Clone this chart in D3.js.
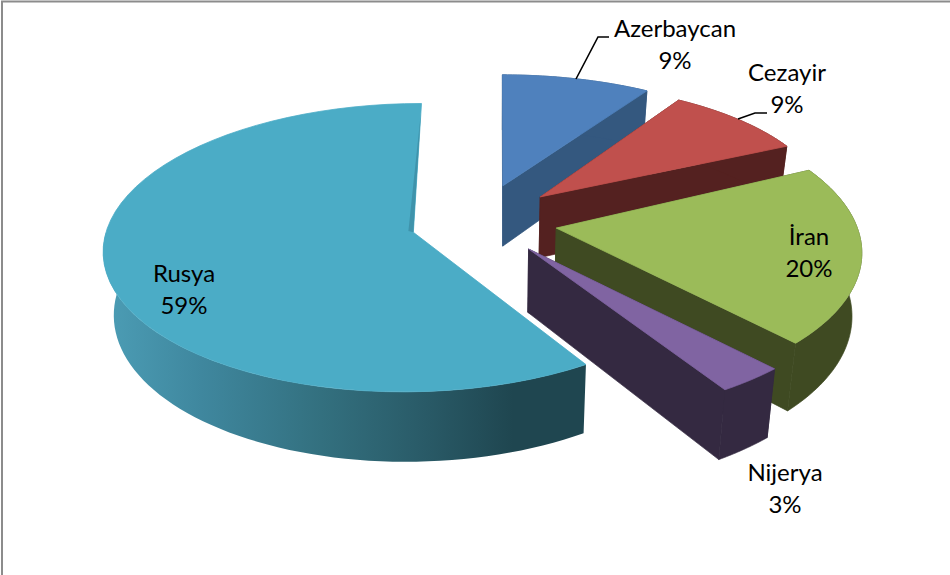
<!DOCTYPE html>
<html><head><meta charset="utf-8">
<script src="https://cdn.jsdelivr.net/npm/d3@7"></script>
<style>html,body{margin:0;padding:0;background:#fff}svg{display:block}text{font-family:Lato,"Open Sans",sans-serif;font-size:24px;fill:#000}</style>
</head><body><svg id="c" width="950" height="575"></svg>
<script>
const categories = ["Azerbaycan","Cezayir","İran","Nijerya","Rusya"];
const values = [9,9,20,3,59];
const percentLabels = ["9%","9%","20%","3%","59%"];
const topColors = ["#4f81bd","#c0504d","#9bbb59","#8064a2","#4bacc6"];
const wallColors = ["#34587f","#542120","#3f4a22","#342941","url(#rim)"];
// layout: explosion offsets on the pie plane, radii, and small perspective corrections per slice
const offX = [5,43,58,30,-84], offY = [80,55,-13,-57,-22];
const radiiX = [299,291,300,320,305], radiiY = [276,277,305,312,302];
const rimShiftY = [0,0,-13,0,0], turnDeg = [0,0,-2.5,0,0];
const labelX = [675,787,809,785,184], labelY = [29,73,237,473,274];

const cx=498, cy=222, v=.4648, q=.00035, H=62, shrink=.027;
const project=(X,Y,Z)=>{const w=1+q*Y;return [cx+X/w*(1-shrink*Z), cy+(-v*Y+H*Z)/w];};
const svg=d3.select("#c");
const defs=svg.append("defs");
const g=defs.append("linearGradient").attr("id","rim").attr("gradientUnits","userSpaceOnUse").attr("x1",105).attr("x2",585).attr("y1",0).attr("y2",0);
[[0,"#4c9db5"],[.2,"#3f879e"],[.45,"#33707f"],[.65,"#2a5c69"],[.85,"#1f4650"],[1,"#1f4650"]].forEach(s=>g.append("stop").attr("offset",s[0]).attr("stop-color",s[1]));

const arcs=d3.pie().sort(null)(values);
const line=d3.line();
const apex=(i,Z)=>project(offX[i],offY[i],Z);
const pt=(i,a,k,Z)=>{const t=a+turnDeg[i]*Math.PI/180;
  return project(offX[i]+Math.sin(t)*radiiX[i]*k,offY[i]+rimShiftY[i]*k+Math.cos(t)*radiiY[i]*k,Z);};
const samples=(a0,a1)=>d3.range(0,61).map(k=>a0+(a1-a0)*k/60);
const last=categories.length-1;

const gl=svg.append("g");
arcs.forEach((d,i)=>{
  const a0=d.startAngle,a1=d.endAngle,wc=wallColors[i];
  const s=gl.append("g").attr("class","slice");
  // radial walls (the large slice shows only its curved front)
  if(i!==last)[a0,a1].forEach(a=>{
    s.append("path").attr("fill",wc).attr("stroke",wc).attr("stroke-width",.7)
      .attr("d",line([apex(i,0),pt(i,a,1,0),pt(i,a,1,1),apex(i,1)])+"Z");
  });
  // rim, front-facing part only on the large slice
  const rimEnd=i===last?Math.PI*1.5:a1;
  const ang=samples(a0,rimEnd);
  s.append("path").attr("fill",wc).attr("stroke",i===last?"none":wc).attr("stroke-width",.7)
    .attr("d",line(ang.map(a=>pt(i,a,1,0)).concat(ang.slice().reverse().map(a=>pt(i,a,1,1))))+"Z");
  // top
  s.append("path").attr("fill",topColors[i]).attr("stroke",topColors[i]).attr("stroke-width",.8)
    .attr("d",line([apex(i,0)].concat(samples(a0,a1).map(a=>pt(i,a,1,0))))+"Z");
  if(i===last){
    // thin visible inner wall beside the closing edge
    s.append("path").attr("fill","#3f93ab")
      .attr("d",line([pt(i,a1,.93,0),apex(i,0),project(offX[i]-5,offY[i]+3,0)])+"Z");
  }
});

// leader lines
const leaders=[[[576,79],[598,37],[609,37]],[[738,119],[755,113],[767,113]]];
svg.selectAll("path.leader").data(leaders).join("path").attr("class","leader").attr("fill","none").attr("stroke","#000").attr("stroke-width",1.6).attr("d",d=>line(d));

// labels
categories.forEach((c,i)=>{
  const t=svg.append("text").attr("text-anchor","middle");
  t.append("tspan").attr("x",labelX[i]).attr("y",labelY[i]+8).text(c);
  t.append("tspan").attr("x",labelX[i]).attr("y",labelY[i]+40).text(percentLabels[i]);
});

// chart frame (top and left edges)
svg.append("path").attr("fill","none").attr("stroke","#8c8c8c").attr("stroke-width",2).attr("d","M2,575V1.5H950");
</script></body></html>
